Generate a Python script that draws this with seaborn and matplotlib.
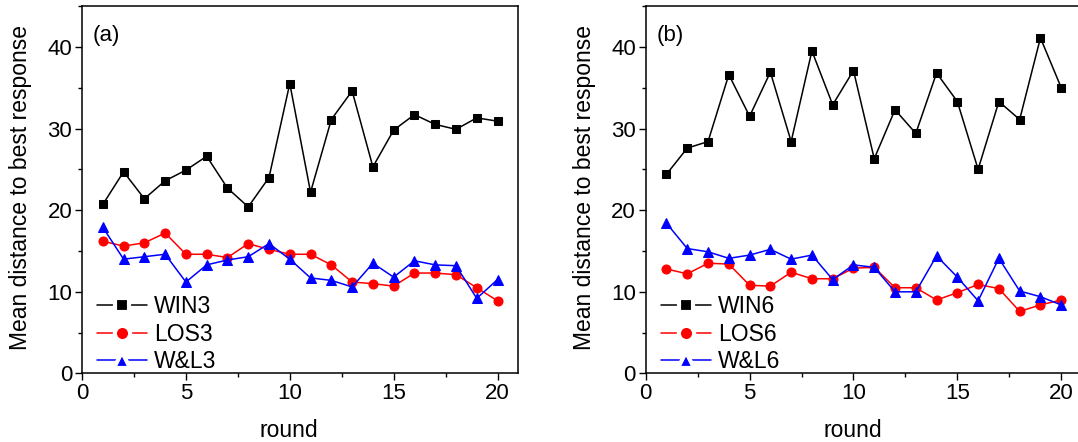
import matplotlib
matplotlib.use("Agg")
import matplotlib.pyplot as plt
from matplotlib.lines import Line2D
from matplotlib.ticker import MultipleLocator
import numpy as np
import pandas as pd
import seaborn as sns

rounds = list(range(1, 21))
win3 = [20.7, 24.7, 21.4, 23.6, 24.9, 26.6, 22.7, 20.4, 24.0, 35.5,
        22.2, 31.1, 34.6, 25.3, 29.8, 31.7, 30.5, 29.9, 31.3, 30.9]
los3 = [16.2, 15.6, 16.0, 17.2, 14.6, 14.6, 14.2, 15.9, 15.2, 14.6,
        14.6, 13.3, 11.2, 11.0, 10.7, 12.3, 12.3, 12.1, 10.5, 8.9]
wl3 = [17.9, 14.0, 14.3, 14.6, 11.2, 13.3, 13.9, 14.3, 15.9, 14.0,
       11.7, 11.4, 10.6, 13.5, 11.8, 13.8, 13.3, 13.2, 9.2, 11.5]
win6 = [24.4, 27.6, 28.4, 36.6, 31.5, 36.9, 28.4, 39.5, 32.9, 37.1,
        26.3, 32.3, 29.4, 36.8, 33.3, 25.0, 33.3, 31.1, 41.1, 35.0]
los6 = [12.8, 12.2, 13.5, 13.4, 10.8, 10.7, 12.4, 11.6, 11.6, 12.9,
        13.0, 10.5, 10.5, 9.0, 9.9, 10.9, 10.4, 7.6, 8.4, 9.0]
wl6 = [18.4, 15.3, 14.9, 14.1, 14.5, 15.2, 14.0, 14.5, 11.5, 13.3,
       13.0, 10.0, 10.0, 14.4, 11.8, 8.9, 14.1, 10.1, 9.4, 8.4]

labels_a = ["WIN3", "LOS3", "W&L3"]
labels_b = ["WIN6", "LOS6", "W&L6"]
panel_tags = ["(a)", "(b)"]
x_label = "round"
y_label = "Mean distance to best response"

sns.set_theme(style="ticks")
plt.rcParams["font.family"] = ["Liberation Sans", "DejaVu Sans"]
plt.rcParams["text.color"] = "black"
plt.rcParams["axes.labelcolor"] = "black"
plt.rcParams["xtick.color"] = "black"
plt.rcParams["ytick.color"] = "black"

colors = ["black", "red", "blue"]
markers = ["s", "o", "^"]
msizes = [5.5, 6.5, 7]
leg_msizes = [10, 11, 11.5]

fig = plt.figure(figsize=(10.78, 4.42), dpi=100)
ax_a = fig.add_axes([0.0761, 0.155, 0.4047, 0.8314])
ax_b = fig.add_axes([0.599, 0.155, 0.4047, 0.8314])

panels = [
    (ax_a, [win3, los3, wl3], labels_a, panel_tags[0]),
    (ax_b, [win6, los6, wl6], labels_b, panel_tags[1]),
]

for ax, series, labels, tag in panels:
    for vals, lab, c, m, ms in zip(series, labels, colors, markers, msizes):
        df = pd.DataFrame({"round": rounds, "value": vals})
        sns.lineplot(data=df, x="round", y="value", ax=ax, color=c,
                     marker=m, markersize=ms, markeredgecolor=c,
                     linewidth=1.1, label=None, legend=False)
    ax.set_xlim(0, 21)
    ax.set_ylim(0, 45)
    ax.xaxis.set_major_locator(MultipleLocator(5))
    ax.xaxis.set_minor_locator(MultipleLocator(2.5))
    ax.yaxis.set_major_locator(MultipleLocator(10))
    ax.yaxis.set_minor_locator(MultipleLocator(5))
    ax.tick_params(axis="both", which="major", direction="out", length=5,
                   width=1, labelsize=16, color="black", labelcolor="black", pad=2)
    ax.tick_params(axis="both", which="minor", direction="out", length=3,
                   width=1, color="black")
    for sp in ax.spines.values():
        sp.set_visible(True)
        sp.set_color("black")
        sp.set_linewidth(1.1)
    ax.set_xlabel(x_label, fontsize=16.5, color="black")
    ax.set_ylabel(y_label, fontsize=16.5, color="black")
    ax.xaxis.set_label_coords(0.475, -0.125)
    ax.yaxis.set_label_coords(-0.114, 0.505)
    ax.text(0.025, 0.948, tag, transform=ax.transAxes, fontsize=16,
            va="top", ha="left", color="black")
    handles = [Line2D([0], [0], color=c, marker=m, markersize=ms,
                      markeredgecolor="white", markeredgewidth=3.0,
                      markerfacecolor=c, linewidth=1.1)
               for c, m, ms in zip(colors, markers, leg_msizes)]
    leg = ax.legend(handles, labels, loc="lower left", frameon=False,
                    fontsize=16.5, handlelength=2.2, handletextpad=0.3,
                    labelspacing=0.2, borderaxespad=0.0, borderpad=0.0,
                    bbox_to_anchor=(0.034, 0.0))
    for t in leg.get_texts():
        t.set_color("black")

fig.savefig("out.png", dpi=100)
